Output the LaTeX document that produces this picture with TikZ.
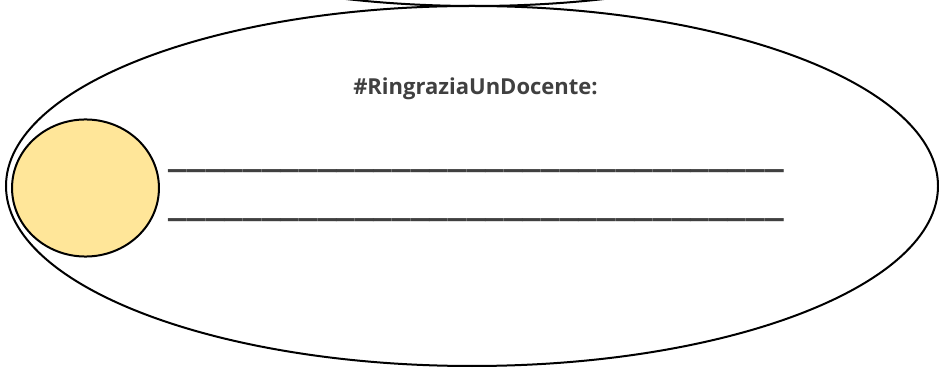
\documentclass[tikz,border=0pt]{standalone}
\usepackage{fontspec}
\setmainfont{Open Sans}
\usepackage{xcolor}
\usetikzlibrary{positioning}

\definecolor{badgefill}{HTML}{FFE699}
\definecolor{inkgray}{HTML}{404040}

\begin{document}
\begin{tikzpicture}[
    x=0.75pt, y=-0.75pt,
    outline/.style={
        draw=black,
        line width=1.5pt
    },
    label/.style={
        inner sep=0pt,
        text=inkgray,
        font=\fontsize{16.5}{19}\selectfont\bfseries
    },
    writeline/.style={
        inner sep=0pt,
        text=inkgray,
        font=\fontsize{34}{40}\selectfont\bfseries
    }
]

\useasboundingbox (0,0) rectangle (939,370);
\fill[white] (0,0) rectangle (939,370);

% shape of the card above, cut by the page edge
\begin{scope}
    \clip (0,0) rectangle (939,370);
    \draw[outline] (475,-174) ellipse [x radius=349.5pt, y radius=135pt];
\end{scope}

\draw[outline] (472,186) ellipse [x radius=349.5pt, y radius=135pt];
\draw[outline, fill=badgefill] (85.5,188) ellipse [x radius=55.1pt, y radius=51.4pt];

\node[label, anchor=base] (title) at (475.5,95) {\#RingraziaUnDocente:};
\node[writeline] (lineA) at (476.5,169) {\_\_\_\_\_\_\_\_\_\_\_\_\_\_\_\_\_\_\_\_\_\_\_\_\_\_\_\_\_\_\_\_\_};
\node[writeline, below=37pt of lineA.center, anchor=center] (lineB) {\_\_\_\_\_\_\_\_\_\_\_\_\_\_\_\_\_\_\_\_\_\_\_\_\_\_\_\_\_\_\_\_\_};

\end{tikzpicture}
\end{document}
